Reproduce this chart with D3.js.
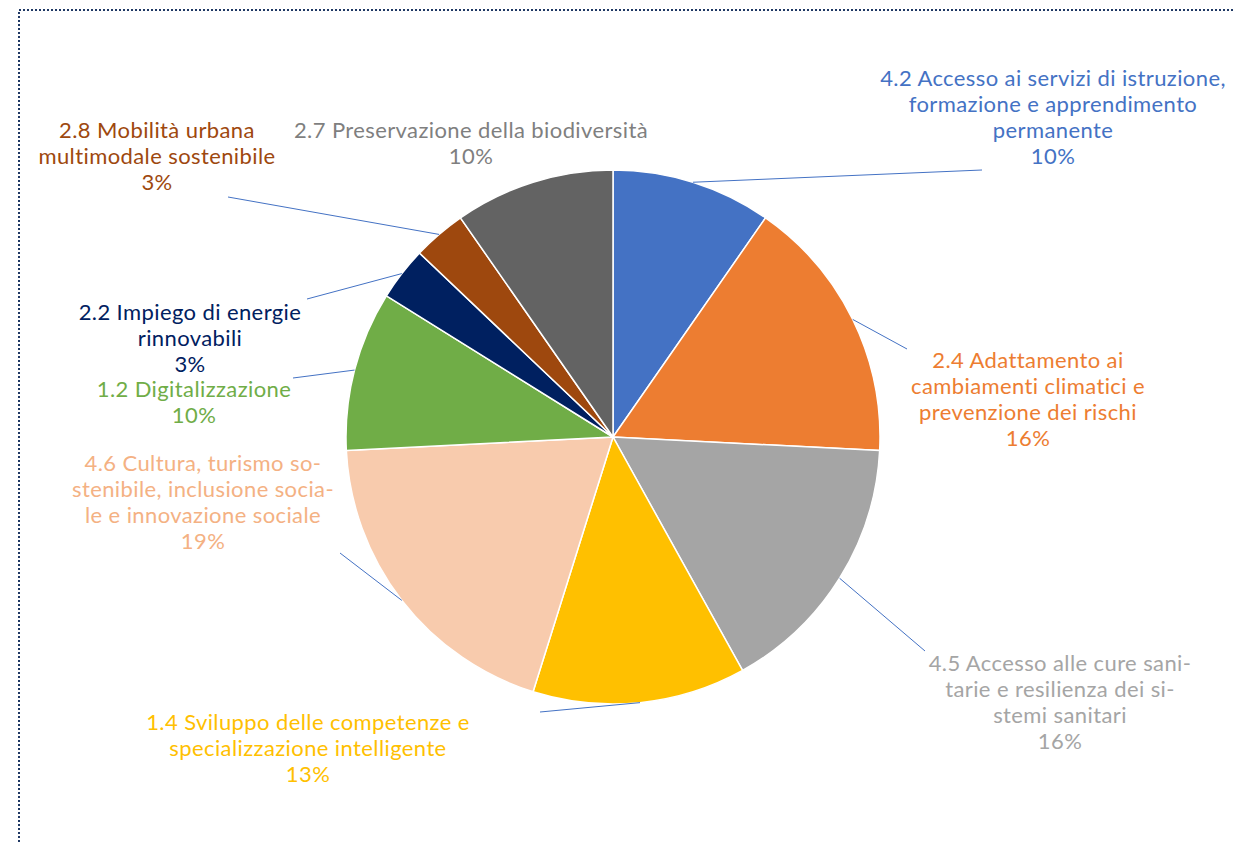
<!DOCTYPE html>
<html lang="it">
<head>
  <meta charset="UTF-8">
  <title>Ripartizione per obiettivo specifico</title>
  <style>
    body { margin: 0; background: #fff; }
    svg { display: block; font-family: Lato, "Open Sans", sans-serif; }
  </style>
</head>
<body>
  <svg id="chart" width="1233" height="842"></svg>

  <script src="https://cdn.jsdelivr.net/npm/d3@7"></script>
  <script>
    // Data (counts of projects per objective)
    const categories = [
      '4.2 Accesso ai servizi di istruzione, formazione e apprendimento permanente',
      '2.4 Adattamento ai cambiamenti climatici e prevenzione dei rischi',
      '4.5 Accesso alle cure sanitarie e resilienza dei sistemi sanitari',
      '1.4 Sviluppo delle competenze e specializzazione intelligente',
      '4.6 Cultura, turismo sostenibile, inclusione sociale e innovazione sociale',
      '1.2 Digitalizzazione',
      '2.2 Impiego di energie rinnovabili',
      '2.8 Mobilità urbana multimodale sostenibile',
      '2.7 Preservazione della biodiversità'
    ]
    const values = [3, 5, 5, 4, 6, 3, 1, 1, 3]

    // label text as it wraps in the original
    const labelLines = [
      ['4.2 Accesso ai servizi di istruzione,', 'formazione e apprendimento', 'permanente'],
      ['2.4 Adattamento ai', 'cambiamenti climatici e', 'prevenzione dei rischi'],
      ['4.5 Accesso alle cure sani-', 'tarie e resilienza dei si-', 'stemi sanitari'],
      ['1.4 Sviluppo delle competenze e', 'specializzazione intelligente'],
      ['4.6 Cultura, turismo so-', 'stenibile, inclusione socia-', 'le e innovazione sociale'],
      ['1.2 Digitalizzazione'],
      ['2.2 Impiego di energie', 'rinnovabili'],
      ['2.8 Mobilità urbana', 'multimodale sostenibile'],
      ['2.7 Preservazione della biodiversità']
    ]

    const sliceColors = ['#4472c4', '#ed7d31', '#a5a5a5', '#ffc000', '#f8cbad', '#70ad47', '#002060', '#9e480e', '#636363']
    const textColors  = ['#4472c4', '#ed7d31', '#a5a5a5', '#ffc000', '#f4b183', '#70ad47', '#002060', '#9e480e', '#7f7f7f']

    // label placement: center x, first line y, leader end (null = no leader)
    const labelPos = [
      { x: 1053, y: 78,  end: [982, 170] },
      { x: 1028, y: 360, end: [907, 349] },
      { x: 1060, y: 663, end: [925, 651] },
      { x: 308,  y: 722, end: [540, 712] },
      { x: 203,  y: 463, end: [340, 553] },
      { x: 194,  y: 389, end: [293, 378] },
      { x: 190,  y: 312, end: [307, 299] },
      { x: 157,  y: 130, end: [228, 197] },
      { x: 471,  y: 130, end: null }
    ]

    const svg = d3.select('#chart')
    const cx = 613, cy = 437, radius = 267
    const lineH = 26

    // dotted frame (top + left)
    svg.append('path')
      .attr('d', 'M19,842 L19,10 L1233,10')
      .attr('fill', 'none')
      .attr('stroke', '#1f3864')
      .attr('stroke-width', 2)
      .attr('stroke-dasharray', '2,2')

    const total = d3.sum(values)
    const pie = d3.pie().sort(null).value(d => d)
    const arcs = pie(values)
    const arc = d3.arc().innerRadius(0).outerRadius(radius)

    const g = svg.append('g').attr('transform', `translate(${cx},${cy})`)

    g.selectAll('path')
      .data(arcs)
      .enter()
      .append('path')
      .attr('d', arc)
      .attr('fill', (d, i) => sliceColors[i])
      .attr('stroke', '#fff')
      .attr('stroke-width', 1.5)
      .append('title')
      .text((d, i) => `${categories[i]}: ${d.value}`)

    // leader lines from outer arc midpoint
    const edge = d3.arc().innerRadius(radius).outerRadius(radius)
    arcs.forEach((d, i) => {
      const p = labelPos[i]
      if (!p.end) return
      const [sx, sy] = edge.centroid(d)
      svg.append('line')
        .attr('x1', cx + sx).attr('y1', cy + sy)
        .attr('x2', p.end[0]).attr('y2', p.end[1])
        .attr('stroke', '#4472c4')
        .attr('stroke-width', 1)
    })

    // labels
    arcs.forEach((d, i) => {
      const p = labelPos[i]
      const pct = Math.round(d.value / total * 100) + '%'
      const lines = labelLines[i].concat([pct])
      const t = svg.append('text')
        .attr('text-anchor', 'middle')
        .attr('font-size', 22)
        .attr('letter-spacing', 0.4)
        .attr('fill', textColors[i])
      lines.forEach((s, k) => {
        t.append('tspan')
          .attr('x', p.x)
          .attr('y', p.y + k * lineH)
          .attr('dy', '0.35em')
          .text(s)
      })
    })
  </script>
</body>
</html>
